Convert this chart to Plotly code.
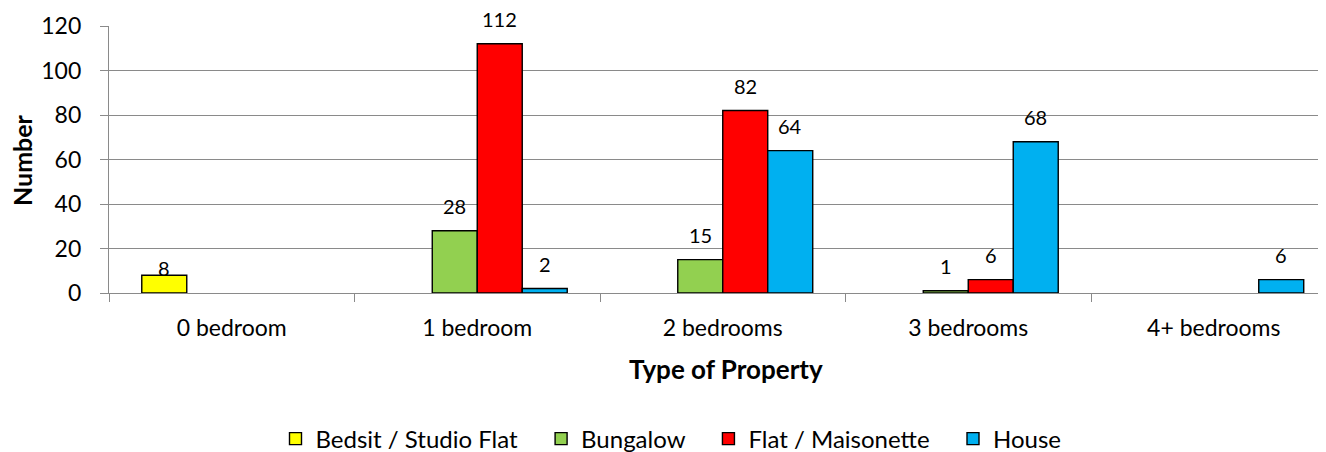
import plotly.graph_objects as go

categories = ["0 bedroom", "1 bedroom", "2 bedrooms", "3 bedrooms", "4+ bedrooms"]
series_names = ["Bedsit / Studio Flat", "Bungalow", "Flat / Maisonette", "House"]
bedsit = [8, None, None, None, None]
bungalow = [None, 28, 15, 1, None]
flat = [None, 112, 82, 6, None]
house = [None, 2, 64, 68, 6]
y_ticks = [0, 20, 40, 60, 80, 100, 120]

colors = ["#FFFF00", "#92D050", "#FF0000", "#00B0F0"]
all_series = [bedsit, bungalow, flat, house]

FONT = "Lato"
# page body has an 8px margin, so the figure is 8px smaller than the window
W, H = 1318, 444
L, T, B = 101, 18, 159
cat_px = 245.5
bargap = 0.267
bar_px = cat_px * (1 - bargap) / 4
plot_w = W - L
plot_h = H - T - B
x_max = -0.5 + plot_w / cat_px
GRID = "#8A8A8A"

fig = go.Figure()
for k, (name, vals, col) in enumerate(zip(series_names, all_series, colors)):
    pad = "\u00a0" * 3 if k < len(series_names) - 1 else ""
    fig.add_trace(go.Bar(
        name=name + pad, x=categories, y=vals,
        marker=dict(color=col, line=dict(color="#000000", width=1.4)),
    ))

annotations = []
for i, vals in enumerate(all_series):
    for c, v in zip(categories, vals):
        if v is None:
            continue
        ys = 7 if i == 0 else 25
        annotations.append(dict(
            x=c, y=v, xref="x", yref="y", text=str(v), showarrow=False,
            xshift=(i - 1.5) * bar_px, yshift=ys,
            font=dict(family=FONT, size=20, color="#000000"),
        ))

annotations.append(dict(
    x=categories[2], y=0, xref="x", yref="paper", yanchor="middle",
    xshift=3, yshift=-76, text="<b>Type of Property</b>", showarrow=False,
    font=dict(family=FONT, size=26, color="#000000"),
))
annotations.append(dict(
    x=(14 - L) / plot_w, y=((H - B) - 152) / plot_h, xref="paper", yref="paper",
    xanchor="center", yanchor="middle", text="<b>Number</b>", showarrow=False,
    textangle=-90, font=dict(family=FONT, size=25, color="#000000"),
))

fig.update_layout(
    width=W, height=H,
    margin=dict(l=L, r=0, t=T, b=B, pad=0),
    barmode="group", bargap=bargap, bargroupgap=0,
    plot_bgcolor="#FFFFFF", paper_bgcolor="#FFFFFF",
    font=dict(family=FONT, size=23, color="#000000"),
    showlegend=True,
    legend=dict(
        orientation="h", xref="container", yref="container",
        x=663 / W, xanchor="center", y=(H - 431) / H, yanchor="middle",
        font=dict(family=FONT, size=24, color="#000000"),
        traceorder="normal",
    ),
    annotations=annotations,
)
fig.update_xaxes(
    range=[-0.5, x_max], showgrid=False, showline=True, linecolor=GRID, linewidth=1.3,
    ticks="outside", ticklen=8, tickcolor=GRID, tickwidth=1.3, tickson="boundaries",
    tickfont=dict(family=FONT, size=23), ticklabelstandoff=14,
)
fig.update_yaxes(
    range=[0, 120], tickvals=y_ticks, showgrid=True, gridcolor=GRID, gridwidth=1.3,
    showline=True, linecolor=GRID, linewidth=1.3, zeroline=False,
    ticks="outside", ticklen=8, tickcolor=GRID, tickwidth=1.3,
    tickfont=dict(family=FONT, size=23), ticklabelstandoff=14,
)

fig.write_html("out.html")
